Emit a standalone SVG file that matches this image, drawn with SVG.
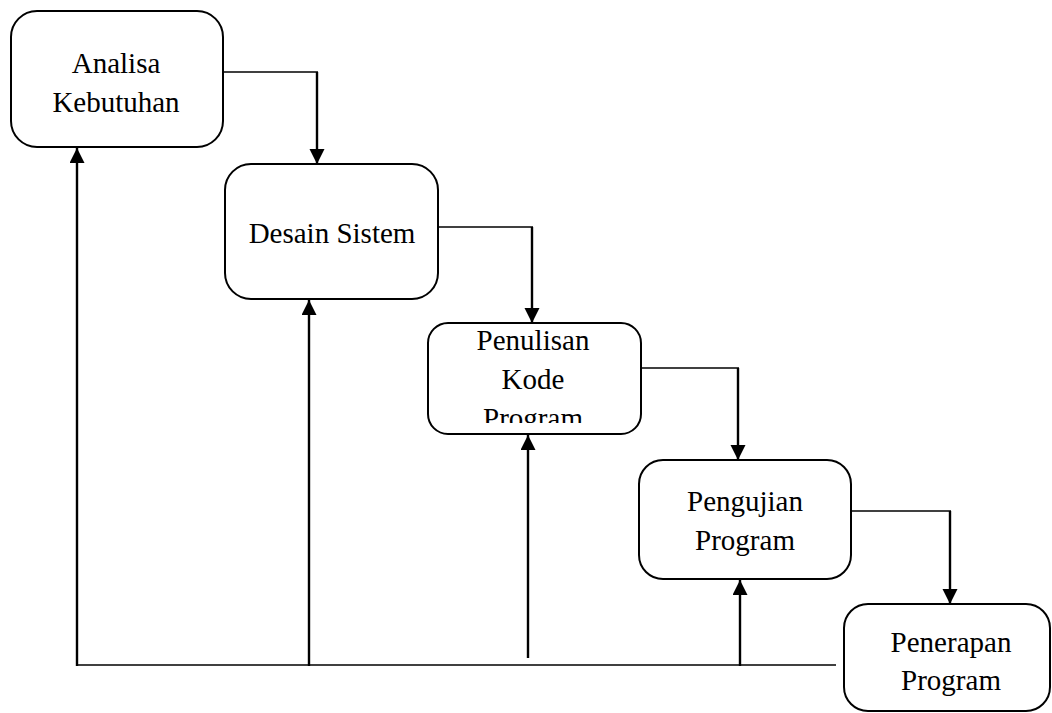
<svg xmlns="http://www.w3.org/2000/svg" width="1052" height="713" viewBox="0 0 1052 713">
  <style>
    .box { fill: #fff; stroke: #000; stroke-width: 2; }
    .label { font-family: "Liberation Serif", "Times New Roman", serif; font-size: 29px; fill: #000; text-anchor: middle; }
    .thin { stroke: #000; stroke-width: 1.4; fill: none; }
    .thick { stroke: #000; stroke-width: 2.4; fill: none; }
  </style>
  <defs>
    <marker id="arrow" markerUnits="userSpaceOnUse" markerWidth="16" markerHeight="16" refX="15" refY="7.5" orient="auto">
      <path d="M0,0 L15,7.5 L0,15 z" fill="#000"/>
    </marker>
    <!-- third box cuts off its last text line -->
    <clipPath id="clip-kode">
      <rect x="428" y="323" width="213" height="100"/>
    </clipPath>
  </defs>
  <rect width="1052" height="713" fill="#fff"/>

  <g id="connectors">
    <!-- forward flow, step to step -->
    <line class="thin" x1="223" y1="72" x2="318" y2="72"/>
    <line class="thick" x1="317" y1="72" x2="317" y2="164" marker-end="url(#arrow)"/>
    <line class="thin" x1="438" y1="227" x2="533" y2="227"/>
    <line class="thick" x1="532" y1="227" x2="532" y2="323" marker-end="url(#arrow)"/>
    <line class="thin" x1="641" y1="368" x2="739" y2="368"/>
    <line class="thick" x1="738" y1="368" x2="738" y2="460" marker-end="url(#arrow)"/>
    <line class="thin" x1="851" y1="511" x2="951" y2="511"/>
    <line class="thick" x1="950" y1="511" x2="950" y2="604" marker-end="url(#arrow)"/>
    <!-- feedback bus back to earlier steps -->
    <line class="thin" x1="77" y1="665" x2="836" y2="665"/>
    <line class="thick" x1="77" y1="666" x2="77" y2="148" marker-end="url(#arrow)"/>
    <line class="thick" x1="309" y1="666" x2="309" y2="300" marker-end="url(#arrow)"/>
    <line class="thick" x1="528" y1="658" x2="528" y2="435" marker-end="url(#arrow)"/>
    <line class="thick" x1="740" y1="666" x2="740" y2="580" marker-end="url(#arrow)"/>
  </g>

  <g id="analisa-kebutuhan">
    <rect class="box" x="11" y="11" width="212" height="136" rx="26" ry="26"/>
    <text class="label" x="116" y="73">Analisa</text>
    <text class="label" x="116" y="112">Kebutuhan</text>
  </g>

  <g id="desain-sistem">
    <rect class="box" x="225" y="164" width="213" height="135" rx="26" ry="26"/>
    <text class="label" x="332" y="243">Desain Sistem</text>
  </g>

  <g id="penulisan-kode-program">
    <rect class="box" x="428" y="323" width="213" height="111" rx="20" ry="20"/>
    <g clip-path="url(#clip-kode)">
      <text class="label" x="533" y="350">Penulisan</text>
      <text class="label" x="533" y="389">Kode</text>
      <text class="label" x="533" y="428">Program</text>
    </g>
  </g>

  <g id="pengujian-program">
    <rect class="box" x="639" y="460" width="212" height="119" rx="24" ry="24"/>
    <text class="label" x="745" y="511">Pengujian</text>
    <text class="label" x="745" y="550">Program</text>
  </g>

  <g id="penerapan-program">
    <rect class="box" x="844" y="604" width="206" height="107" rx="24" ry="24"/>
    <text class="label" x="951" y="652">Penerapan</text>
    <text class="label" x="951" y="690">Program</text>
  </g>
</svg>
